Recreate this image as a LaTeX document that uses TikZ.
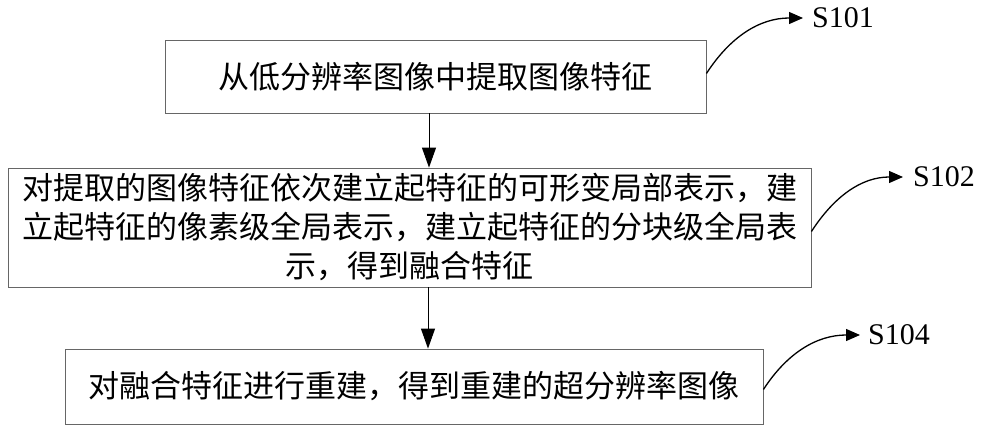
\documentclass[tikz,border=0pt]{standalone}
\usepackage{fontspec}
\setmainfont{Liberation Serif}
\newfontfamily\cjk{Noto Sans CJK SC}
\usetikzlibrary{arrows.meta}
\begin{document}
\begin{tikzpicture}[x=1pt,y=1pt,
  stepbox/.style={draw=black!60,line width=0.8pt,inner sep=0pt,align=center,
    font=\cjk\fontsize{31}{39}\selectfont},
  flow/.style={line width=1pt,-{Triangle[length=20pt,width=14pt]}},
  curl/.style={line width=1.3pt,-{Triangle[length=14pt,width=12pt]}},
  steplabel/.style={inner sep=0pt,anchor=west,font=\fontsize{30}{30}\selectfont}]
\useasboundingbox (0,0) rectangle (1000,436);
\node[stepbox,minimum width=541pt,minimum height=73pt] (b1) at (435.5,359.5) {从低分辨率图像中提取图像特征};
\node[stepbox,minimum width=803pt,minimum height=119pt] (b2) at (409.5,208.5) {对提取的图像特征依次建立起特征的可形变局部表示，建\\立起特征的像素级全局表示，建立起特征的分块级全局表\\示，得到融合特征};
\node[stepbox,minimum width=698pt,minimum height=75pt] (b3) at (414,49.5) {对融合特征进行重建，得到重建的超分辨率图像};
\node[steplabel] (l1) at (812,418) {S101};
\node[steplabel] (l2) at (913,259) {S102};
\node[steplabel] (l3) at (868,101) {S104};
\draw[flow] ([xshift=-6.5pt]b1.south) -- ([xshift=-6.5pt]b1.south |- b2.north);
\draw[flow] ([xshift=18.5pt]b2.south) -- ([xshift=18.5pt]b2.south |- b3.north);
\draw[curl] ([yshift=3pt]b1.east) to[out=57,in=180] ([xshift=-9pt]l1.west);
\draw[curl] ([yshift=-4pt]b2.east) to[out=57,in=180] ([xshift=-10pt]l2.west);
\draw[curl] ([yshift=-3pt]b3.east) to[out=57,in=180] ([xshift=-8pt]l3.west);
\end{tikzpicture}
\end{document}
